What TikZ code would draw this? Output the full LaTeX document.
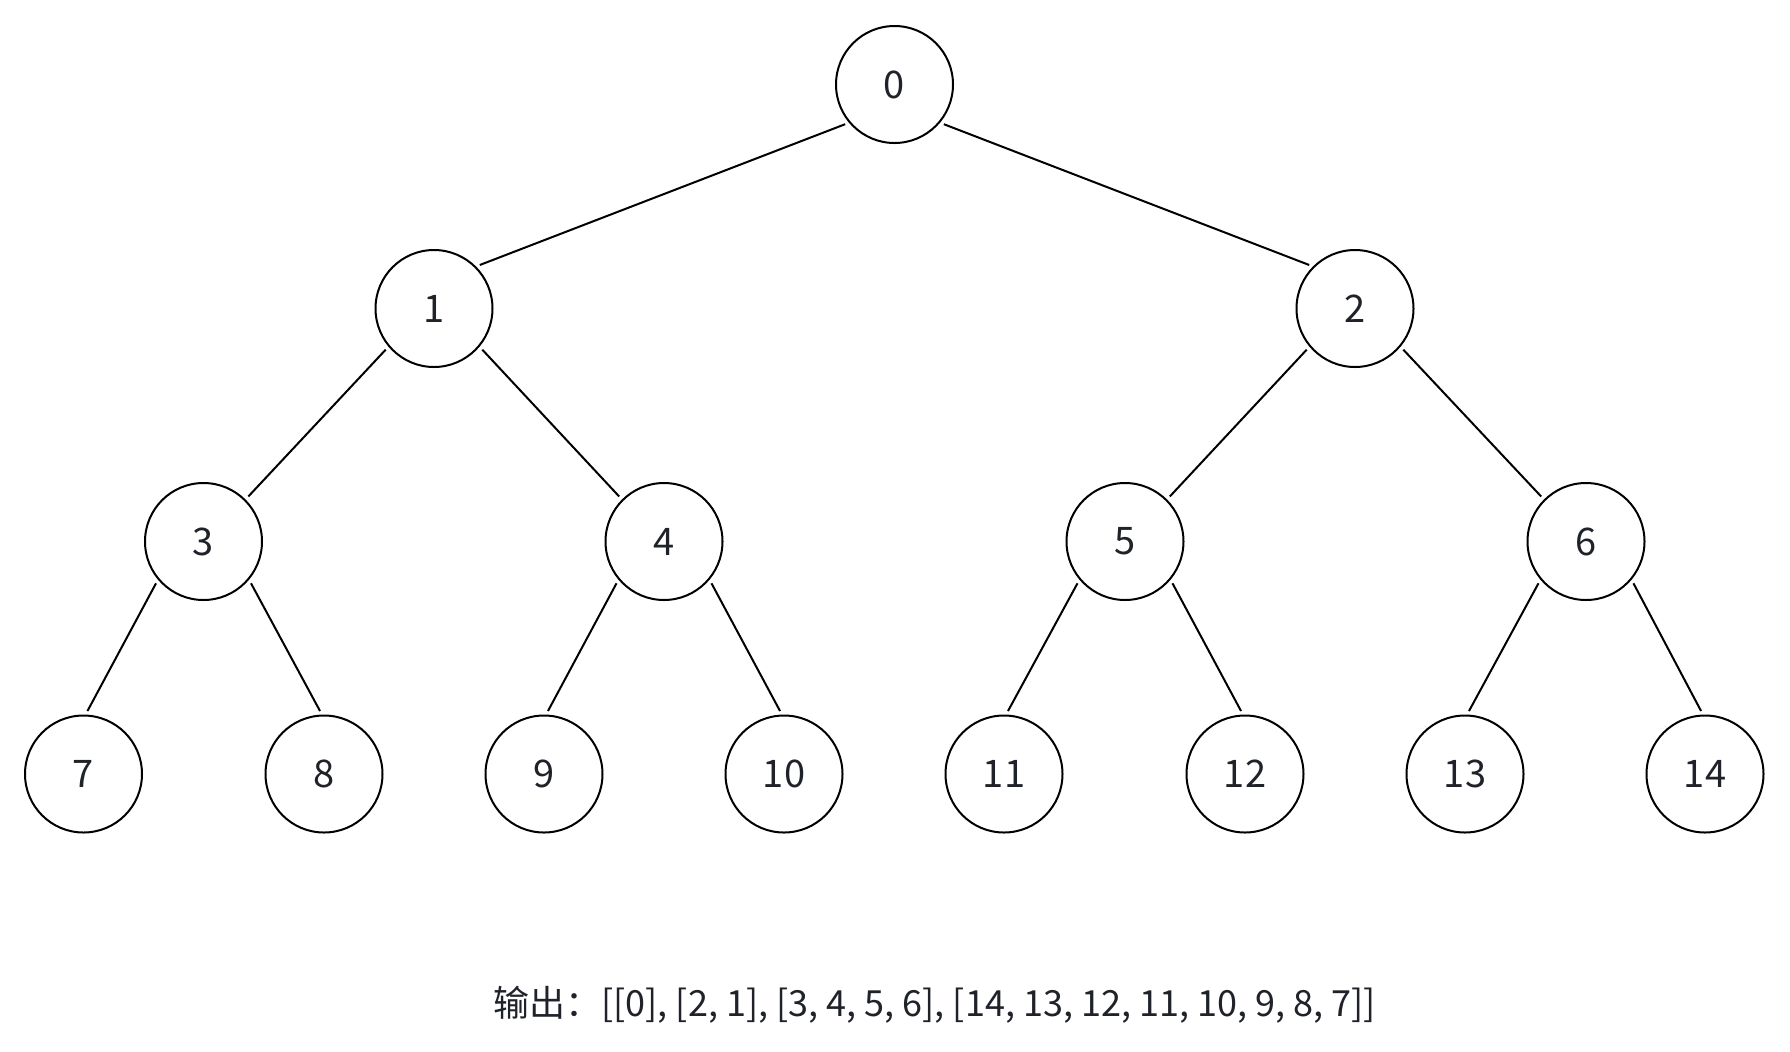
\documentclass[tikz,border=0pt]{standalone}
\usepackage{fontspec}
\setmainfont{Noto Sans CJK SC}
\definecolor{txtgray}{HTML}{1F2329}
\begin{document}
\begin{tikzpicture}[x=0.5pt,y=-0.5pt]
\tikzset{heapnode/.style={circle,draw,line width=1pt,minimum size=58.5pt,inner sep=0pt,text=txtgray,font=\fontsize{19}{22}\selectfont},
heapedge/.style={line width=1pt,shorten >=2pt,shorten <=2pt}}
\useasboundingbox (0,0) rectangle (1790,1051);
%LEVEL 0
\node[heapnode] (n0) at (894.5,84.5) {0};
%LEVEL 1
\node[heapnode] (n1) at (434,308.5) {1};
\node[heapnode] (n2) at (1355,308.5) {2};
%LEVEL 2
\node[heapnode] (n3) at (203.5,541.5) {3};
\node[heapnode] (n4) at (664,541.5) {4};
\node[heapnode] (n5) at (1125,541.5) {5};
\node[heapnode] (n6) at (1586,541.5) {6};
%LEVEL 3
\node[heapnode] (n7) at (83.5,774) {7};
\node[heapnode] (n8) at (324,774) {8};
\node[heapnode] (n9) at (544,774) {9};
\node[heapnode] (n10) at (784,774) {10};
\node[heapnode] (n11) at (1004,774) {11};
\node[heapnode] (n12) at (1245,774) {12};
\node[heapnode] (n13) at (1465,774) {13};
\node[heapnode] (n14) at (1705,774) {14};
%EDGES
\draw[heapedge] (n0.220) -- (n1.45);
\draw[heapedge] (n0.320) -- (n2.135);
\draw[heapedge] (n1.220) -- (n3.45);
\draw[heapedge] (n1.320) -- (n4.135);
\draw[heapedge] (n2.220) -- (n5.45);
\draw[heapedge] (n2.320) -- (n6.135);
\draw[heapedge] (n3.220) -- (n7.88);
\draw[heapedge] (n3.320) -- (n8.92);
\draw[heapedge] (n4.220) -- (n9.88);
\draw[heapedge] (n4.320) -- (n10.92);
\draw[heapedge] (n5.220) -- (n11.88);
\draw[heapedge] (n5.320) -- (n12.92);
\draw[heapedge] (n6.220) -- (n13.88);
\draw[heapedge] (n6.320) -- (n14.92);
%OUTPUT
\node[text=txtgray,font=\fontsize{18}{22}\selectfont] (result) at (934.5,1005) {输出：[[0], [2, 1], [3, 4, 5, 6], [14, 13, 12, 11, 10, 9, 8, 7]]};
\end{tikzpicture}
\end{document}
